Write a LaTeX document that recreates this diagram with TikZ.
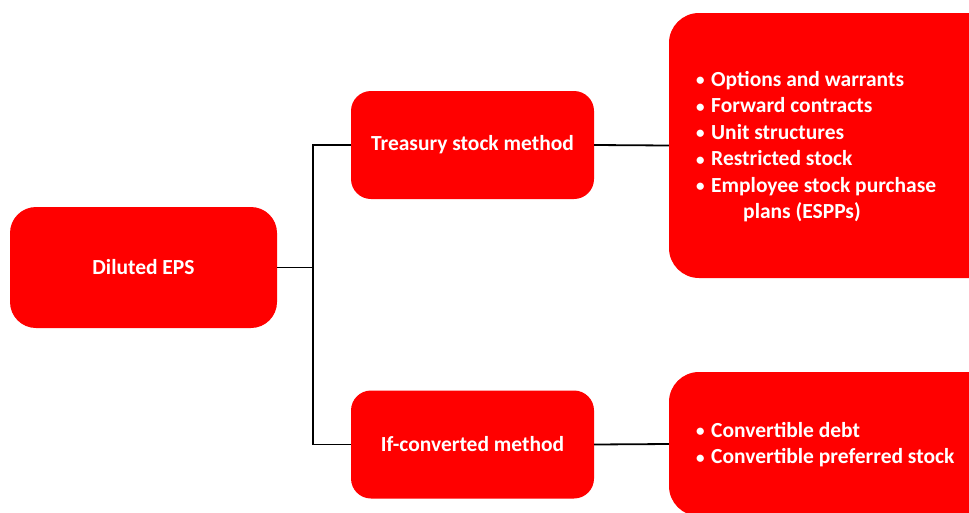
\documentclass[tikz,border=0pt]{standalone}
\usepackage{fontspec}
\setmainfont{Carlito}
\definecolor{boxred}{HTML}{FF0000}
\newcommand{\bul}{\makebox[15pt][l]{\raisebox{0.8pt}{\fontsize{17}{17}\selectfont•}}}
\begin{document}
\begin{tikzpicture}[x=1pt,y=-1pt,
  redbox/.style={fill=boxred,draw=none,rounded corners=#1,inner sep=0pt},
  redbox/.default=22pt,
  lbl/.style={text=white,font=\fontsize{21.5}{26.5}\selectfont\bfseries},
  conn/.style={draw=black,line width=1.8pt}]
\useasboundingbox (0,0) rectangle (969,512);
\clip (0,0) rectangle (969,512);
% boxes
\node[redbox=26pt,minimum width=267pt,minimum height=121pt,lbl] (dil) at (143.5,267.5) {Diluted EPS};
\node[redbox=20pt,minimum width=243pt,minimum height=108pt,lbl] (tsm) at (472.5,145) {Treasury stock method};
\node[redbox=20pt,minimum width=243pt,minimum height=108pt,lbl] (ifc) at (472.5,444.5) {If-converted method};
\node[redbox=30pt,minimum width=340pt,minimum height=265pt] (r1) at (839,145.5) {};
\node[redbox=30pt,minimum width=340pt,minimum height=144pt] (r2) at (839,444) {};
% texts
\node[lbl,anchor=north west,align=left,inner sep=0pt] (t1) at (696,71) {%
\bul Options and warrants\\
\bul Forward contracts\\
\bul Unit structures\\
\bul Restricted stock\\
\bul Employee stock purchase\\
\hspace{47pt}plans (ESPPs)};
\node[lbl,anchor=north west,align=left,inner sep=0pt] (t2) at (696,422) {%
\bul Convertible debt\\
\bul Convertible preferred stock};
% connectors
\coordinate (j) at (313,267.5);
\draw[conn] (dil.east) -- (j);
\draw[conn] (tsm.west) -| (j) |- (ifc.west);
\draw[conn] (tsm.east) -- (r1.west);
\draw[conn] (ifc.east) -- (r2.west);
\end{tikzpicture}
\end{document}
